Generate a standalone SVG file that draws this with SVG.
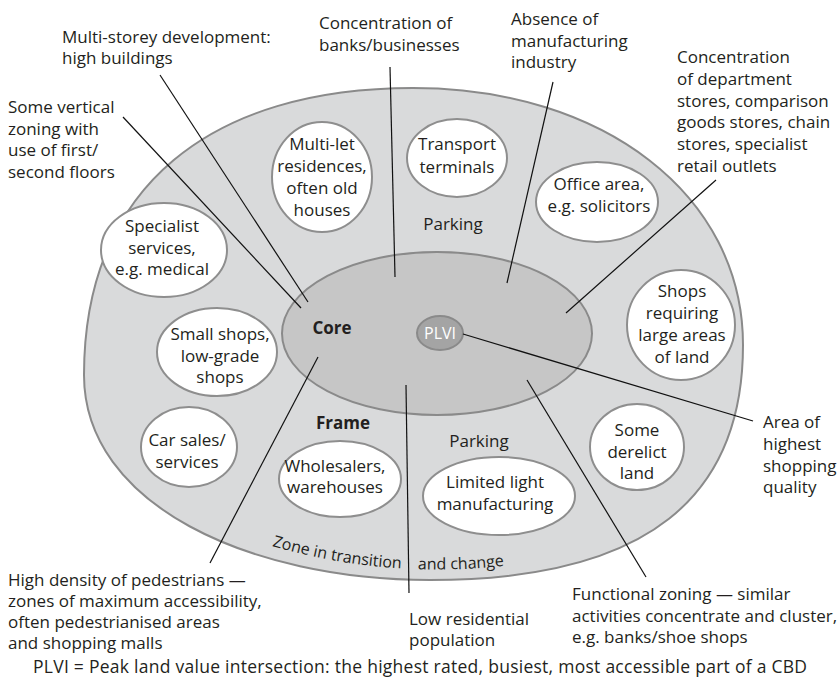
<svg xmlns="http://www.w3.org/2000/svg" width="838" height="679" viewBox="0 0 838 679">
<style>
text{font-family:"Open Sans","Noto Sans","Liberation Sans",sans-serif;font-size:17px;fill:#231f20}
.c{text-anchor:middle}
.b{font-weight:bold}
.node{fill:#ffffff;stroke:#8e8e8e;stroke-width:2}
.conn line{stroke:#111;stroke-width:1.2}
</style>
<defs>
<path id="zonePath" d="M272,546 Q430,592 600,548" fill="none"/>
</defs>
<rect width="838" height="679" fill="#ffffff"/>
<g id="frame-zone">
<path d="M413,88 C603,88 743,195 743,345 C743,495 650,580 430,580 C250,580 84,505 84,375 C84,185 213,88 413,88 Z" fill="#d9dadb" stroke="#8a8a8a" stroke-width="2"/>
</g>
<g id="core">
<ellipse cx="437" cy="333.5" rx="155" ry="81.5" fill="#c6c6c6" stroke="#8a8a8a" stroke-width="2"/>
<text class="c b" x="332" y="334">Core</text>
</g>
<g id="plvi">
<ellipse cx="440" cy="333" rx="23" ry="17" fill="#a4a4a4" stroke="#8a8a8a" stroke-width="2"/>
<text class="c" x="440" y="339" style="fill:#ffffff;font-size:16px">PLVI</text>
</g>
<g id="frame-label"><text class="c b" x="343" y="429">Frame</text></g>
<g id="parking-top"><text class="c" x="453" y="230">Parking</text></g>
<g id="parking-bottom"><text class="c" x="479" y="447">Parking</text></g>
<g id="zone-label">
<text style="font-size:16px"><textPath href="#zonePath">Zone in transition</textPath></text>
<text style="font-size:16px"><textPath href="#zonePath" startOffset="148">and change</textPath></text>
</g>
<g id="multi-let">
<ellipse class="node" cx="322" cy="177" rx="50" ry="55"/>
<text class="c" x="322" y="150">Multi-let</text>
<text class="c" x="322" y="172">residences,</text>
<text class="c" x="322" y="194">often old</text>
<text class="c" x="322" y="216">houses</text>
</g>
<g id="transport">
<ellipse class="node" cx="457" cy="158" rx="50" ry="39"/>
<text class="c" x="457" y="150">Transport</text>
<text class="c" x="457" y="173">terminals</text>
</g>
<g id="office">
<ellipse class="node" cx="597" cy="202" rx="61" ry="40"/>
<text class="c" x="599" y="190">Office area,</text>
<text class="c" x="599" y="212">e.g. solicitors</text>
</g>
<g id="shops-large">
<ellipse class="node" cx="681" cy="325" rx="54" ry="55"/>
<text class="c" x="682" y="297">Shops</text>
<text class="c" x="682" y="319">requiring</text>
<text class="c" x="682" y="341">large areas</text>
<text class="c" x="682" y="363">of land</text>
</g>
<g id="derelict">
<ellipse class="node" cx="637" cy="447" rx="47" ry="43"/>
<text class="c" x="637" y="436">Some</text>
<text class="c" x="637" y="458">derelict</text>
<text class="c" x="637" y="479">land</text>
</g>
<g id="specialist">
<ellipse class="node" cx="164" cy="250" rx="63" ry="47"/>
<text class="c" x="162" y="232">Specialist</text>
<text class="c" x="162" y="254">services,</text>
<text class="c" x="162" y="275">e.g. medical</text>
</g>
<g id="small-shops">
<ellipse class="node" cx="217" cy="352" rx="60" ry="44"/>
<text class="c" x="220" y="340">Small shops,</text>
<text class="c" x="220" y="362">low-grade</text>
<text class="c" x="220" y="383">shops</text>
</g>
<g id="car-sales">
<ellipse class="node" cx="189" cy="447" rx="48" ry="40"/>
<text class="c" x="187" y="446">Car sales/</text>
<text class="c" x="187" y="468">services</text>
</g>
<g id="wholesalers">
<ellipse class="node" cx="340" cy="479" rx="61" ry="38"/>
<text class="c" x="335" y="472">Wholesalers,</text>
<text class="c" x="335" y="493">warehouses</text>
</g>
<g id="light-manufacturing">
<ellipse class="node" cx="499" cy="496" rx="76" ry="39"/>
<text class="c" x="495" y="488">Limited light</text>
<text class="c" x="495" y="510">manufacturing</text>
</g>
<g class="conn" id="connectors">
<line x1="160" y1="75" x2="308" y2="302"/>
<line x1="123" y1="117" x2="301" y2="308"/>
<line x1="390" y1="67" x2="395" y2="277"/>
<line x1="553" y1="82" x2="507" y2="283"/>
<line x1="716" y1="180" x2="566" y2="313"/>
<line x1="463" y1="334" x2="753" y2="421"/>
<line x1="527" y1="380" x2="646" y2="577"/>
<line x1="406" y1="385" x2="409" y2="593"/>
<line x1="318" y1="357" x2="210" y2="563"/>
</g>
<g id="label-multistorey">
<text x="62" y="43">Multi-storey development:</text>
<text x="62" y="64">high buildings</text>
</g>
<g id="label-vertical">
<text x="8" y="113">Some vertical</text>
<text x="8" y="135">zoning with</text>
<text x="8" y="156">use of first/</text>
<text x="8" y="178">second floors</text>
</g>
<g id="label-banks">
<text x="319" y="29">Concentration of</text>
<text x="319" y="51">banks/businesses</text>
</g>
<g id="label-absence">
<text x="511" y="25">Absence of</text>
<text x="511" y="47">manufacturing</text>
<text x="511" y="68">industry</text>
</g>
<g id="label-department">
<text x="677" y="63">Concentration</text>
<text x="677" y="85">of department</text>
<text x="677" y="107">stores, comparison</text>
<text x="677" y="128">goods stores, chain</text>
<text x="677" y="150">stores, specialist</text>
<text x="677" y="172">retail outlets</text>
</g>
<g id="label-area">
<text x="763" y="428">Area of</text>
<text x="763" y="450">highest</text>
<text x="763" y="472">shopping</text>
<text x="763" y="493">quality</text>
</g>
<g id="label-functional">
<text x="572" y="600">Functional zoning — similar</text>
<text x="572" y="622">activities concentrate and cluster,</text>
<text x="572" y="643">e.g. banks/shoe shops</text>
</g>
<g id="label-low">
<text x="409" y="625">Low residential</text>
<text x="409" y="646">population</text>
</g>
<g id="label-pedestrians">
<text x="8" y="586">High density of pedestrians —</text>
<text x="8" y="607">zones of maximum accessibility,</text>
<text x="8" y="628">often pedestrianised areas</text>
<text x="8" y="649">and shopping malls</text>
</g>
<g id="footer">
<text x="33" y="673" style="font-size:17.5px" textLength="774" lengthAdjust="spacing">PLVI = Peak land value intersection: the highest rated, busiest, most accessible part of a CBD</text>
</g>
</svg>
